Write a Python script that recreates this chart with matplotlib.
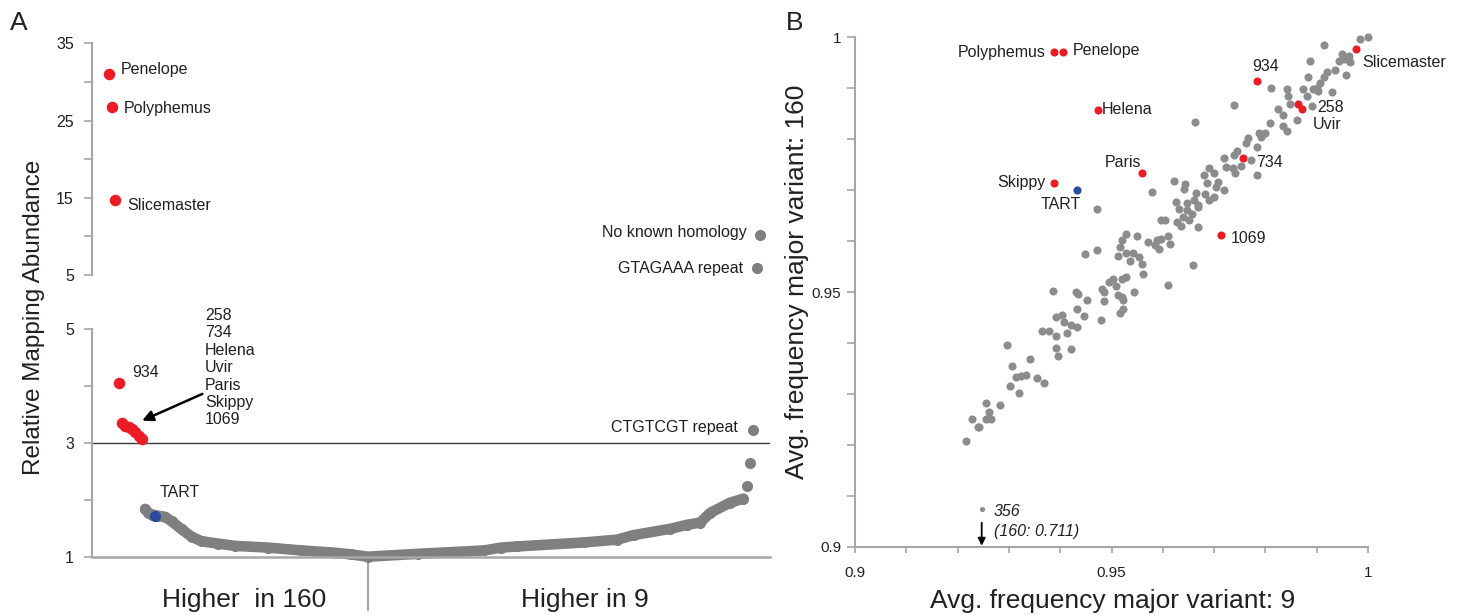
import matplotlib
matplotlib.use('Agg')
import matplotlib.pyplot as plt
import matplotlib.transforms as mtransforms

plt.rcParams['font.family'] = ['Liberation Sans', 'DejaVu Sans']

# ---------------- DATA: panel A (ranked relative mapping abundance) ----------------
a_top_names = ['Penelope', 'Polyphemus', 'Slicemaster']
a_top_rank = [5, 6, 7]
a_top_vals = [31.0, 26.8, 14.7]

a_934_rank = [8]
a_934_vals = [4.05]

a_cluster_rank = [9, 10, 11, 12, 13, 14, 15]
a_cluster_vals = [3.34, 3.30, 3.27, 3.25, 3.19, 3.12, 3.07]
a_cluster_names = ['258', '734', 'Helena', 'Uvir', 'Paris', 'Skippy', '1069']

a_curve_rank = [16, 17, 18, 20, 22, 24, 27, 30, 33, 38, 43, 53, 63, 73, 78, 83,
                98, 118, 123, 128, 148, 158, 163, 174, 179, 183, 186, 192, 196]
a_curve_vals = [1.84, 1.76, 1.74, 1.72, 1.70, 1.62, 1.48, 1.35, 1.27, 1.23, 1.19,
                1.16, 1.11, 1.07, 1.04, 1.00, 1.05, 1.11, 1.16, 1.18, 1.25, 1.30,
                1.38, 1.49, 1.56, 1.60, 1.77, 1.95, 2.02]

a_tart_rank = [19]
a_tart_vals = [1.72]

a_tail_rank = [197, 198, 199]
a_tail_vals = [2.25, 2.65, 3.23]
a_tail_names = ['', '', 'CTGTCGT repeat']

a_high9_rank = [200, 201]
a_high9_vals = [5.9, 10.2]
a_high9_names = ['GTAGAAA repeat', 'No known homology']

a_split_rank = 83
a_threshold = 3

# ---------------- DATA: panel B (avg. frequency of major variant) ----------------
b_gray_points = [
    (1.0000, 1.0000), (0.9985, 0.9997), (0.9915, 0.9984), (0.9949, 0.9967),
    (0.9962, 0.9964), (0.9953, 0.9957), (0.9943, 0.9953), (0.9964, 0.9951),
    (0.9887, 0.9954), (0.9936, 0.9936), (0.9921, 0.9931), (0.9958, 0.9927),
    (0.9884, 0.9922), (0.9915, 0.9922), (0.9907, 0.9910), (0.9901, 0.9900),
    (0.9811, 0.9900), (0.9843, 0.9898), (0.9873, 0.9898), (0.9892, 0.9898),
    (0.9902, 0.9894), (0.9930, 0.9892), (0.9845, 0.9884), (0.9881, 0.9884),
    (0.9847, 0.9869), (0.9890, 0.9866), (0.9739, 0.9867), (0.9824, 0.9859),
    (0.9835, 0.9848), (0.9862, 0.9837), (0.9809, 0.9831), (0.9788, 0.9813),
    (0.9835, 0.9825), (0.9843, 0.9817), (0.9799, 0.9813), (0.9663, 0.9833),
    (0.9767, 0.9802), (0.9762, 0.9792), (0.9792, 0.9805), (0.9784, 0.9785),
    (0.9745, 0.9776), (0.9720, 0.9764), (0.9739, 0.9769), (0.9771, 0.9759),
    (0.9752, 0.9748), (0.9737, 0.9743), (0.9724, 0.9746), (0.9741, 0.9733),
    (0.9784, 0.9730), (0.9690, 0.9744), (0.9680, 0.9730), (0.9699, 0.9733),
    (0.9686, 0.9715), (0.9707, 0.9717), (0.9703, 0.9707), (0.9720, 0.9700),
    (0.9622, 0.9718), (0.9643, 0.9713), (0.9642, 0.9703), (0.9665, 0.9694),
    (0.9682, 0.9692), (0.9660, 0.9681), (0.9669, 0.9671), (0.9699, 0.9687),
    (0.9690, 0.9681), (0.9648, 0.9674), (0.9625, 0.9677), (0.9578, 0.9696),
    (0.9631, 0.9664), (0.9648, 0.9661), (0.9669, 0.9667), (0.9656, 0.9654),
    (0.9639, 0.9648), (0.9652, 0.9641), (0.9669, 0.9628), (0.9635, 0.9630),
    (0.9627, 0.9638), (0.9597, 0.9641), (0.9604, 0.9641), (0.9471, 0.9663),
    (0.9529, 0.9615), (0.9520, 0.9602), (0.9550, 0.9610), (0.9571, 0.9599),
    (0.9588, 0.9602), (0.9597, 0.9605), (0.9610, 0.9610), (0.9614, 0.9595),
    (0.9516, 0.9589), (0.9512, 0.9570), (0.9529, 0.9576), (0.9542, 0.9576),
    (0.9554, 0.9569), (0.9537, 0.9562), (0.9559, 0.9556), (0.9561, 0.9536),
    (0.9593, 0.9585), (0.9584, 0.9592), (0.9659, 0.9554), (0.9471, 0.9583),
    (0.9448, 0.9574), (0.9495, 0.9520), (0.9503, 0.9526), (0.9520, 0.9526),
    (0.9508, 0.9513), (0.9482, 0.9507), (0.9486, 0.9500), (0.9529, 0.9530),
    (0.9544, 0.9500), (0.9512, 0.9494), (0.9520, 0.9490), (0.9610, 0.9515),
    (0.9385, 0.9503), (0.9431, 0.9500), (0.9434, 0.9497), (0.9453, 0.9485),
    (0.9485, 0.9482), (0.9523, 0.9485), (0.9433, 0.9467), (0.9446, 0.9454),
    (0.9480, 0.9446), (0.9516, 0.9459), (0.9523, 0.9467), (0.9391, 0.9452),
    (0.9403, 0.9456), (0.9407, 0.9442), (0.9421, 0.9436), (0.9433, 0.9431),
    (0.9414, 0.9420), (0.9365, 0.9423), (0.9378, 0.9423), (0.9391, 0.9414),
    (0.9391, 0.9390), (0.9395, 0.9374), (0.9421, 0.9389), (0.9297, 0.9397),
    (0.9306, 0.9356), (0.9342, 0.9369), (0.9314, 0.9333), (0.9323, 0.9336),
    (0.9334, 0.9338), (0.9355, 0.9331), (0.9368, 0.9322), (0.9302, 0.9315),
    (0.9319, 0.9303), (0.9256, 0.9282), (0.9283, 0.9278), (0.9229, 0.9252),
    (0.9239, 0.9235), (0.9242, 0.9235), (0.9261, 0.9265), (0.9256, 0.9252),
    (0.9266, 0.9251), (0.9216, 0.9208),
]
b_gray_x = [p[0] for p in b_gray_points]
b_gray_y = [p[1] for p in b_gray_points]

b_red_names = ['Polyphemus', 'Penelope', 'Slicemaster', '934', '258', 'Uvir',
               'Helena', '734', 'Paris', 'Skippy', '1069']
b_red_x = [0.9387, 0.9406, 0.9977, 0.9784, 0.9864, 0.9871, 0.9474, 0.9756,
           0.9559, 0.9387, 0.9713]
b_red_y = [0.9971, 0.9972, 0.9977, 0.9915, 0.9869, 0.9859, 0.9858, 0.9764,
           0.9734, 0.9715, 0.9612]

b_tart_x = [0.9432]
b_tart_y = [0.9700]

b_356_x = [0.9247]
b_356_y = [0.9075]
b_356_true160 = 0.711

# ---------------- STYLE ----------------
W, H = 1460, 615
GRAY_A = '#7f7f7f'
GRAY_B = '#8c8c8f'
RED = '#ec1c24'
BLUE = '#2b4a9e'
AXC = '#a6a6a6'
TXT = '#231f20'


def fx(px):
    return px / W


def fy(py):
    return 1 - py / H


fig = plt.figure(figsize=(W / 100, H / 100), dpi=100)
fig.patch.set_facecolor('white')

# ---------------- PANEL A ----------------
axU = fig.add_axes([fx(92), fy(275), fx(770) - fx(92), fy(43.3) - fy(275)])
axL = fig.add_axes([fx(92), fy(556.7), fx(770) - fx(92), fy(329) - fy(556.7)])
for ax in (axU, axL):
    ax.set_facecolor('none')
    ax.set_xlim(0, 204)
    for s in ('top', 'right'):
        ax.spines[s].set_visible(False)
    ax.spines['left'].set_color(AXC)
    ax.spines['left'].set_linewidth(1.5)
    ax.set_xticks([])
    ax.tick_params(axis='y', which='both', direction='out', length=6, width=1.2,
                   color=AXC, labelcolor=TXT, labelsize=11.5, pad=7)
axU.spines['bottom'].set_visible(False)
axL.spines['bottom'].set_color(AXC)
axL.spines['bottom'].set_linewidth(1.8)

axU.set_ylim(5, 35)
axU.set_yticks([5, 15, 25, 35])
axU.set_yticks([10, 20, 30], minor=True)
axL.set_ylim(1, 5)
axL.set_yticks([1, 3, 5])
axL.set_yticks([2, 4], minor=True)

axL.axhline(a_threshold, color='#3a3a3a', lw=1.0, zorder=1)
axL.axvline(a_split_rank, ymin=-0.232, ymax=0, color=AXC, lw=1.5, clip_on=False)

# points
axU.plot(a_top_rank, a_top_vals, 'o', ms=8.3, color=RED, mec='none', clip_on=False)
axU.plot(a_high9_rank, a_high9_vals, 'o', ms=8, color=GRAY_A, mec='none', clip_on=False)
axL.plot(a_curve_rank, a_curve_vals, '-', color=GRAY_A, lw=7.6,
         solid_capstyle='round', solid_joinstyle='round', clip_on=False, zorder=2)
axL.plot(a_curve_rank, a_curve_vals, 'o', ms=8, color=GRAY_A, mec='none',
         clip_on=False, zorder=2)
axL.plot(a_tail_rank, a_tail_vals, 'o', ms=8, color=GRAY_A, mec='none', clip_on=False, zorder=2)
axL.plot(a_934_rank, a_934_vals, 'o', ms=8.3, color=RED, mec='none', zorder=3)
axL.plot(a_cluster_rank, a_cluster_vals, 'o', ms=8.3, color=RED, mec='none', zorder=3)
axL.plot(a_tart_rank, a_tart_vals, 'o', ms=8, color=BLUE, mec='none', zorder=4)

# labels panel A
lab_kw = dict(textcoords='offset pixels', fontsize=11.5, color=TXT, va='center')
offA = {'Penelope': (12, 5), 'Polyphemus': (12, -2), 'Slicemaster': (12, -5)}
for n, r, v in zip(a_top_names, a_top_rank, a_top_vals):
    axU.annotate(n, (r, v), xytext=offA[n], ha='left', **lab_kw)
axL.annotate('934', (a_934_rank[0], a_934_vals[0]), xytext=(14, 11), ha='left', **lab_kw)
axL.annotate('TART', (a_tart_rank[0], a_tart_vals[0]), xytext=(4, 23), ha='left', **lab_kw)
offR = {'GTAGAAA repeat': (-14, 0), 'No known homology': (-13, 2)}
for n, r, v in zip(a_high9_names, a_high9_rank, a_high9_vals):
    axU.annotate(n, (r, v), xytext=offR[n], ha='right', **lab_kw)
axL.annotate(a_tail_names[2], (a_tail_rank[2], a_tail_vals[2]), xytext=(-16, 2),
             ha='right', **lab_kw)

fig.text(fx(205), fy(308), '\n'.join(a_cluster_names), ha='left', va='top',
         fontsize=11.5, color=TXT, linespacing=1.2)
axL.annotate('', xy=(15.1, 3.39), xytext=(33.2, 3.86), xycoords='data',
             arrowprops=dict(arrowstyle='-|>', color='black', lw=1.8,
                             mutation_scale=16, shrinkA=0, shrinkB=0))

fig.text(fx(243.7), fy(607), 'Higher  in 160', ha='center', va='baseline',
         fontsize=19, color=TXT)
fig.text(fx(585), fy(607), 'Higher in 9', ha='center', va='baseline',
         fontsize=19, color=TXT)
fig.text(fx(34), fy(317), 'Relative Mapping Abundance', rotation=90,
         ha='center', va='center', fontsize=17.5, color=TXT)
fig.text(fx(19), fy(22.5), 'A', ha='center', va='center', fontsize=19, color=TXT)

# ---------------- PANEL B ----------------
axB = fig.add_axes([fx(855), fy(547), fx(1368) - fx(855), fy(37.3) - fy(547)])
axB.set_facecolor('none')
axB.set_xlim(0.9, 1.0)
axB.set_ylim(0.9, 1.0)
for s in ('top', 'right'):
    axB.spines[s].set_visible(False)
for s in ('left', 'bottom'):
    axB.spines[s].set_color(AXC)
    axB.spines[s].set_linewidth(1.5)
maj = [0.9, 0.95, 1.0]
maj_lab = ['0.9', '0.95', '1']
mnr = [0.91, 0.92, 0.93, 0.94, 0.96, 0.97, 0.98, 0.99]
axB.set_xticks(maj)
axB.set_xticklabels(maj_lab)
axB.set_xticks(mnr, minor=True)
axB.set_yticks(maj)
axB.set_yticklabels(maj_lab)
axB.set_yticks(mnr, minor=True)
axB.tick_params(axis='both', which='both', direction='out', width=1.2,
                color=AXC, labelcolor=TXT, labelsize=11)
axB.tick_params(axis='y', which='both', length=6, pad=4)
axB.tick_params(axis='x', which='both', length=4, pad=10)

axB.scatter(b_gray_x, b_gray_y, s=34, color=GRAY_B, linewidths=0, clip_on=False, zorder=2)
axB.scatter(b_red_x, b_red_y, s=34, color=RED, linewidths=0, clip_on=False, zorder=3)
axB.scatter(b_tart_x, b_tart_y, s=34, color=BLUE, linewidths=0, zorder=3)
axB.scatter(b_356_x, b_356_y, s=14, color=GRAY_B, linewidths=0, zorder=3)

offB = {
    'Polyphemus': ((-8, 0), 'right', 'center'),
    'Penelope': ((9, 1), 'left', 'center'),
    'Slicemaster': ((6, -13), 'left', 'center'),
    '934': ((8, 14), 'center', 'center'),
    '258': ((19, -3), 'left', 'center'),
    'Uvir': ((11, -15), 'left', 'center'),
    'Helena': ((4, 0), 'left', 'center'),
    '734': ((13, -5), 'left', 'center'),
    'Paris': ((-1, 10), 'right', 'center'),
    'Skippy': ((-8, 0), 'right', 'center'),
    '1069': ((10, -3), 'left', 'center'),
}
for n, x, y in zip(b_red_names, b_red_x, b_red_y):
    (dx, dy), ha, va = offB[n]
    axB.annotate(n, (x, y), xytext=(dx, dy), textcoords='offset pixels',
                 ha=ha, va=va, fontsize=11.5, color=TXT)
axB.annotate('TART', (b_tart_x[0], b_tart_y[0]), xytext=(-16, -14),
             textcoords='offset pixels', ha='center', va='center', fontsize=11.5, color=TXT)
axB.annotate('356', (b_356_x[0], b_356_y[0]), xytext=(12, -3),
             textcoords='offset pixels', ha='left', va='center', fontsize=11.5,
             color=TXT, style='italic')
axB.annotate('(160: %.3f)' % b_356_true160, (b_356_x[0], b_356_y[0]), xytext=(12, -23),
             textcoords='offset pixels', ha='left', va='center', fontsize=11.5,
             color=TXT, style='italic')
# downward arrow under point 356 (its 160 value is off-scale)
tip_tr = mtransforms.offset_copy(axB.transData, fig=fig, x=0, y=-37, units='dots')
tail_tr = mtransforms.offset_copy(axB.transData, fig=fig, x=0, y=-14, units='dots')
axB.annotate('', xy=(b_356_x[0], b_356_y[0]), xycoords=tip_tr,
             xytext=(b_356_x[0], b_356_y[0]), textcoords=tail_tr,
             arrowprops=dict(arrowstyle='-|>', color='black', lw=1.3,
                             mutation_scale=11, shrinkA=0, shrinkB=0))

fig.text(fx(1113), fy(608), 'Avg. frequency major variant: 9', ha='center',
         va='baseline', fontsize=19, color=TXT)
fig.text(fx(797), fy(282), 'Avg. frequency major variant: 160', rotation=90,
         ha='center', va='center', fontsize=19, color=TXT)
fig.text(fx(795), fy(22.5), 'B', ha='center', va='center', fontsize=19, color=TXT)

fig.savefig('out.png', dpi=100)
